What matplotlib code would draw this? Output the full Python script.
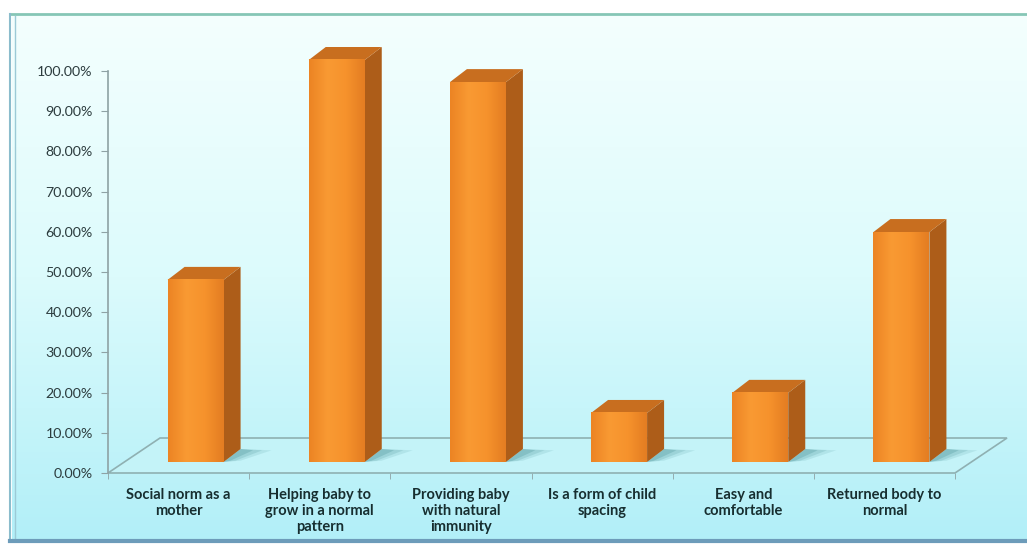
import numpy as np
import matplotlib.pyplot as plt
from matplotlib.patches import Polygon
from matplotlib.colors import LinearSegmentedColormap

categories = [
    "Social norm as a\nmother",
    "Helping baby to\ngrow in a normal\npattern",
    "Providing baby\nwith natural\nimmunity",
    "Is a form of child\nspacing",
    "Easy and\ncomfortable",
    "Returned body to\nnormal",
]
values = [45.3, 100.0, 94.5, 12.2, 17.2, 57.2]
yticks = list(range(0, 101, 10))
ytick_labels = [f"{v:.2f}%" for v in yticks]

W, H = 1027, 544
fig = plt.figure(figsize=(W / 100, H / 100), dpi=100)
fig.patch.set_facecolor("white")

# panel background with vertical gradient and frame
bg = fig.add_axes([0, 0, 1, 1], zorder=0)
bg.set_xlim(0, W)
bg.set_ylim(H, 0)
bg.axis("off")
grad = np.linspace(0, 1, 256)[:, None]
bg_cmap = LinearSegmentedColormap.from_list("panel", ["#f4fffe", "#dcfbfc", "#b2eff8"])
bg.imshow(grad, extent=(12, W, 540, 15), cmap=bg_cmap, aspect="auto")
bg.plot([10, W], [14, 14], color="#86c6b6", lw=2)
bg.plot([10, 10], [14, 541], color="#8bbccc", lw=1.5)
bg.plot([15, 15], [16, 538], color="#9ccad6", lw=1)
bg.plot([10, W], [541, 541], color="#6d9cba", lw=3)

# plot area: x in category units, y in percent
left, right, bottom_px, top_px = 108, 955, 473, 71
ax = fig.add_axes([left / W, (H - bottom_px) / H, (right - left) / W,
                   (bottom_px - top_px) / H], zorder=1)
ax.set_facecolor("none")
ax.set_xlim(-0.5, 5.5)
ax.set_ylim(0, 100)

ux = (right - left) / 6.0          # pixels per category
uy = (bottom_px - top_px) / 100.0  # pixels per percent

# depth offsets of the floor and of the bars (oblique projection)
floor_dx, floor_dy = 52 / ux, 35 / uy
off_dx, off_dy = 17 / ux, 11 / uy
depth_dx, depth_dy = 17 / ux, 13 / uy
bw = 56 / ux

floor = Polygon([(-0.5, 0), (5.5, 0), (5.5 + floor_dx, floor_dy),
                 (-0.5 + floor_dx, floor_dy)], closed=True,
                fc="#c4f3f8", ec="#8fb0b2", lw=1.2, clip_on=False, zorder=2)
ax.add_patch(floor)

front_cmap = LinearSegmentedColormap.from_list(
    "front", ["#ec8424", "#f99a33", "#f6922c", "#e47d22"])

for i, v in enumerate(values):
    x0 = i - bw / 2 + off_dx
    y0 = off_dy
    # soft shadow on the floor
    for k, a in enumerate([0.12, 0.16, 0.22]):
        s = 1 - k * 0.3
        shadow = Polygon([
            (x0 + bw, y0),
            (x0 + bw + depth_dx, y0 + depth_dy),
            (x0 + bw + depth_dx + 0.22 * s, y0 + depth_dy * 0.9),
            (x0 + bw + 0.12 * s, y0 + depth_dy * 0.1),
        ], closed=True, fc="#2f7f84", ec="none", alpha=a, clip_on=False, zorder=3)
        ax.add_patch(shadow)

    side = Polygon([(x0 + bw, y0), (x0 + bw + depth_dx, y0 + depth_dy),
                    (x0 + bw + depth_dx, y0 + depth_dy + v), (x0 + bw, y0 + v)],
                   closed=True, fc="#ad5d19", ec="none", clip_on=False, zorder=4)
    ax.add_patch(side)
    top = Polygon([(x0, y0 + v), (x0 + bw, y0 + v),
                   (x0 + bw + depth_dx, y0 + v + depth_dy),
                   (x0 + depth_dx, y0 + v + depth_dy)],
                  closed=True, fc="#c86e1f", ec="none", clip_on=False, zorder=4)
    ax.add_patch(top)

    front = ax.bar(x0, v, width=bw, bottom=y0, align="edge", color="none",
                   zorder=4, clip_on=False)[0]
    img = ax.imshow(np.linspace(0, 1, 64)[None, :], cmap=front_cmap,
                    extent=(x0, x0 + bw, y0, y0 + v), aspect="auto",
                    zorder=4, clip_on=False)
    img.set_clip_path(front)

ax.set_xlim(-0.5, 5.5)
ax.set_ylim(0, 100)

# axes styling
for name in ["top", "right", "bottom"]:
    ax.spines[name].set_visible(False)
ax.spines["left"].set_color("#8ea2a4")
ax.spines["left"].set_linewidth(1.2)

ax.set_yticks(yticks)
ax.set_yticklabels(ytick_labels, fontfamily="Lato", fontsize=10.2, color="#2c3c3e")
ax.tick_params(axis="y", direction="out", length=5, color="#8ea2a4", pad=6)

ax.set_xticks(range(len(categories)))
ax.set_xticklabels(categories, fontfamily="Lato", fontweight="bold",
                   fontsize=10.5, color="#172e30", linespacing=1.15)
ax.set_xticks(np.arange(-0.5, 6, 1), minor=True)
ax.tick_params(axis="x", which="major", length=0, pad=11)
ax.tick_params(axis="x", which="minor", direction="out", length=4,
               color="#8ea2a4")

fig.savefig("out.png", dpi=100)
